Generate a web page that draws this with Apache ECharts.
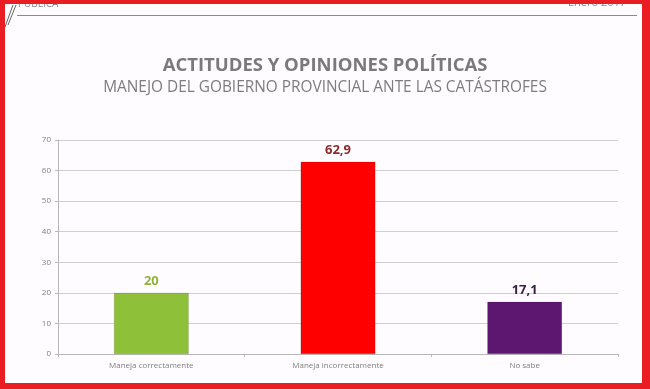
<!DOCTYPE html>
<html>
<head>
<meta charset="utf-8">
<script src="https://cdn.jsdelivr.net/npm/echarts@6/dist/echarts.min.js"></script>
<style>
html,body{margin:0;padding:0;background:#fff;}
#c{width:650px;height:389px;}
</style>
</head>
<body>
<div id="c"></div>
<script>
const categories = ['Maneja correctamente', 'Maneja incorrectamente', 'No sabe'];
const values = [20, 62.9, 17.1];
const labelTexts = ['20', '62,9', '17,1'];
const barColors = ['#8fc03a', '#ff0000', '#5e1770'];
const labelColors = ['#8fb33a', '#8b2a2e', '#3e1c45'];
const yTicks = [0, 10, 20, 30, 40, 50, 60, 70];

const chart = echarts.init(document.getElementById('c'));
const font = 'Open Sans, sans-serif';
chart.setOption({
  backgroundColor: '#fefcfe',
  animation: false,
  title: [
    {text: 'ACTITUDES Y OPINIONES POLÍTICAS', left: 'center', top: 51,
     textStyle: {fontFamily: font, fontSize: 18.5, fontWeight: 'bold', color: '#7a7a7a'}},
    {text: 'MANEJO DEL GOBIERNO PROVINCIAL ANTE LAS CATÁSTROFES', left: 'center', top: 75,
     textStyle: {fontFamily: font, fontSize: 15.4, fontWeight: 'normal', color: '#7d7d7d'}}
  ],
  grid: {left: 58, right: 32, top: 140, bottom: 35, containLabel: false},
  xAxis: {
    type: 'category', data: categories,
    axisLine: {lineStyle: {color: '#b8b8b8'}},
    axisTick: {show: true, length: 3, lineStyle: {color: '#b8b8b8'}},
    axisLabel: {fontFamily: font, fontSize: 8, color: '#808080', margin: 8}
  },
  yAxis: {
    type: 'value', min: yTicks[0], max: yTicks[yTicks.length - 1], interval: 10,
    axisLine: {show: true, lineStyle: {color: '#b8b8b8'}},
    axisTick: {show: true, length: 3, lineStyle: {color: '#b8b8b8'}},
    axisLabel: {fontFamily: font, fontSize: 8, color: '#808080', margin: 7},
    splitLine: {lineStyle: {color: '#d0d0d0'}}
  },
  series: [{
    type: 'bar', barWidth: '40%',
    data: values.map((v, i) => ({
      value: v,
      itemStyle: {color: barColors[i], borderColor: 'rgba(0,0,0,0.25)', borderWidth: 0.5},
      label: {show: true, position: 'top', formatter: labelTexts[i], color: labelColors[i],
              fontFamily: font, fontSize: 13, fontWeight: 'bold', distance: 5}
    }))
  }],
  graphic: [
    {type: 'line', shape: {x1: 17, y1: 15.5, x2: 637, y2: 15.5}, style: {stroke: '#8a8a8a', lineWidth: 1}},
    {type: 'line', shape: {x1: 13, y1: 5, x2: 5, y2: 27}, style: {stroke: '#666', lineWidth: 1}},
    {type: 'line', shape: {x1: 16, y1: 5, x2: 8, y2: 25}, style: {stroke: '#666', lineWidth: 1}},
    {type: 'text', x: 18, y: 9, style: {text: 'PÚBLICA', fontFamily: font, fontSize: 10, fill: '#8a8a8a', textVerticalAlign: 'bottom'}},
    {type: 'text', x: 568, y: 8, style: {text: 'Enero 2017', fontFamily: font, fontSize: 11, fill: '#8a8a8a', textVerticalAlign: 'bottom'}},
    {type: 'rect', shape: {x: 0, y: 0, width: 650, height: 4}, style: {fill: '#ea1c24'}},
    {type: 'rect', shape: {x: 0, y: 383, width: 650, height: 6}, style: {fill: '#ea1c24'}},
    {type: 'rect', shape: {x: 0, y: 0, width: 5, height: 389}, style: {fill: '#ea1c24'}},
    {type: 'rect', shape: {x: 642, y: 0, width: 8, height: 389}, style: {fill: '#ea1c24'}}
  ]
});
</script>
</body>
</html>
